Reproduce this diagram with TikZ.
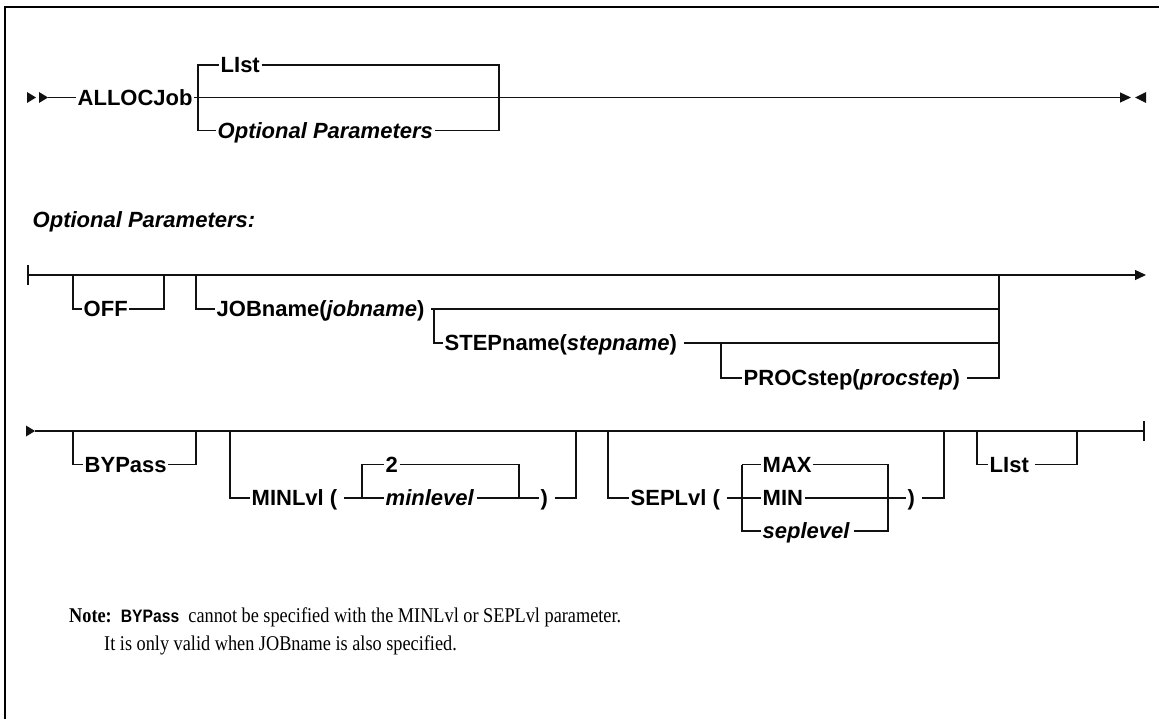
\documentclass[tikz,border=0pt]{standalone}
\usepackage{fontspec}
\setmainfont{Liberation Serif}
\setsansfont{Liberation Sans}
\newfontfamily\notefont{Liberation Serif}[FakeStretch=0.87]
\newfontfamily\notesans{Liberation Sans}[FakeStretch=0.87]
\usepackage{xcolor}
\definecolor{railDark}{HTML}{111111}
\usepackage{tikz}
\usetikzlibrary{arrows.meta,positioning}
\tikzset{
    rail/.style={
        draw=railDark,
        line width=1.2pt
    },
    railend/.style={
        rail,
        -{Triangle[length=11pt,width=10pt]}
    },
    kw/.style={
        anchor=west,
        inner sep=1.5pt,
        text height=15.7pt,
        text depth=0pt,
        font=\sffamily\bfseries\fontsize{22}{26}\selectfont
    },
    var/.style={
        kw,
        font=\sffamily\bfseries\itshape\fontsize{22}{26}\selectfont
    },
    note/.style={
        anchor=west,
        inner sep=0pt,
        font=\notefont\fontsize{21}{25}\selectfont
    }
}

\begin{document}
\begin{tikzpicture}[x=1pt,y=-1pt]
    \useasboundingbox (0,0) rectangle (1159,719);
    % Frame
    \draw[line width=1.2pt] (5,719) -- (5,7) -- (1159,7);

    % Main statement
    \fill[railDark] (27,92) -- (36,97.5) -- (27,103) -- cycle;
    \fill[railDark] (39,92) -- (48,97.5) -- (39,103) -- cycle;
    \coordinate (r1s) at (48,97.5);
    \coordinate (r1e) at (1131,97.5);
    \node[kw] (alloc) at (76,97.5) {ALLOCJob};
    \node[kw] (list1) at (219,65) {LIst};
    \node[var] (opt1) at (216,130.5) {Optional Parameters};
    \coordinate (b1l) at (198,65);
    \coordinate (b1r) at (499,65);
    \draw[rail] (r1s) -- (alloc.west);
    \draw[railend] (alloc.east) -- (r1e);
    \fill[railDark] (1146,92) -- (1135,97.5) -- (1146,103) -- cycle;
    \draw[rail] (opt1.west) -| (b1l) -- (list1.west);
    \draw[rail] (list1.east) -- (b1r) |- (opt1.east);

    % Fragment title
    \node[var] (opttitle) at (31,220) {Optional Parameters:};

    % Fragment, first line
    \coordinate (r2s) at (28,275);
    \coordinate (r2e) at (1146,275);
    \draw[rail] ([yshift=-10pt]r2s) -- ([yshift=10pt]r2s);
    \draw[railend] (r2s) -- (r2e);
    \node[kw] (off) at (82,309) {OFF};
    \coordinate (offl) at (73,275);
    \coordinate (offr) at (164,275);
    \draw[rail] (offl) |- (off.west);
    \draw[rail] (off.east) -| (offr);
    \node[kw] (job) at (215,309) {JOBname(\textit{jobname})};
    \coordinate (jobl) at (196,275);
    \coordinate (jobr) at (999,275);
    \draw[rail] (jobl) |- (job.west);
    \draw[rail] ([xshift=5pt]job.east) -- (jobr |- job);
    \node[kw] (step) at (443,343) {STEPname(\textit{stepname})};
    \coordinate (stepl) at (434,309);
    \draw[rail] (stepl) |- (step.west);
    \draw[rail] ([xshift=5pt]step.east) -- (jobr |- step);
    \node[kw] (proc) at (742,378) {PROCstep(\textit{procstep})};
    \coordinate (procl) at (721,343);
    \draw[rail] (procl) |- (proc.west);
    \draw[rail] ([xshift=5pt]proc.east) -| (jobr);

    % Fragment, second line
    \coordinate (r3s) at (35,431);
    \coordinate (r3e) at (1144,431);
    \fill[railDark] (26,425.5) -- (35,431) -- (26,436.5) -- cycle;
    \draw[rail] (r3s) -- (r3e);
    \draw[rail] ([yshift=-10pt]r3e) -- ([yshift=10pt]r3e);
    % BYPass
    \node[kw] (byp) at (83,464.5) {BYPass};
    \draw[rail] (73,431) |- (byp.west);
    \draw[rail] (byp.east) -| (196,431);
    % MINLvl
    \node[kw] (minl) at (250,498) {MINLvl (};
    \node[kw] (two) at (384,464.5) {2};
    \node[var] (minv) at (384,498) {minlevel};
    \node[kw] (minc) at (539,498) {)};
    \coordinate (minil) at (362,464.5);
    \coordinate (minir) at (519,464.5);
    \draw[rail] (230,431) |- (minl.west);
    \draw[rail] ([xshift=5pt]minl.east) -- (minv.west);
    \draw[rail] (minil |- minv) -- (minil) -- (two.west);
    \draw[rail] (two.east) -- (minir) -- (minir |- minv);
    \draw[rail] ([xshift=2pt]minv.east) -- (minc.west);
    \draw[rail] ([xshift=5pt]minc.east) -| (576,431);
    % SEPLvl
    \node[kw] (sepl) at (629,498) {SEPLvl (};
    \node[kw] (smax) at (761,464.5) {MAX};
    \node[kw] (smin) at (761,498) {MIN};
    \node[var] (sepv) at (761,531) {seplevel};
    \node[kw] (sepc) at (906,498) {)};
    \coordinate (sepil) at (742,464.5);
    \coordinate (sepir) at (888,464.5);
    \draw[rail] (608,431) |- (sepl.west);
    \draw[rail] ([xshift=5pt]sepl.east) -- (smin.west);
    \draw[rail] (sepil) |- (sepv.west);
    \draw[rail] (sepil) -- (smax.west);
    \draw[rail] (smax.east) -- (sepir) |- ([xshift=3pt]sepv.east);
    \draw[rail] (smin.east) -- (sepc.west);
    \draw[rail] ([xshift=5pt]sepc.east) -| (944,431);
    % LIst
    \node[kw] (list3) at (988,464.5) {LIst};
    \draw[rail] (977,431) |- (list3.west);
    \draw[rail] ([xshift=4pt]list3.east) -| (1077,431);

    % Note
    \node[note] (note1) at (69,617) {\textbf{Note:}\ \ {\notesans\bfseries\fontsize{18}{22}\selectfont BYPass}\ \ cannot be specified with the MINLvl or SEPLvl parameter.};
    \node[note] (note2) at (104,645) {It is only valid when JOBname is also specified.};
\end{tikzpicture}
\end{document}
